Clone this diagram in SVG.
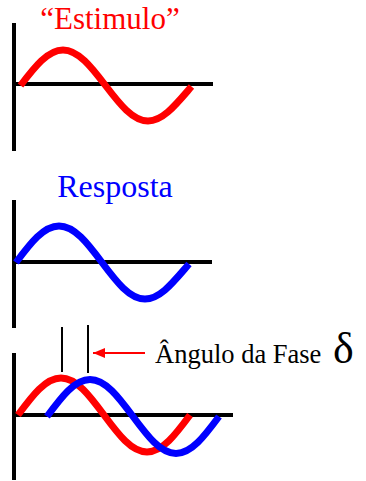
<svg xmlns="http://www.w3.org/2000/svg" width="366" height="481" viewBox="0 0 366 481">
<style>
.axis{stroke:#000;stroke-width:4;fill:none}
.tick{stroke:#000;stroke-width:2;fill:none}
.red{stroke:#ff0000;stroke-width:7;fill:none}
.blue{stroke:#0000ff;stroke-width:7;fill:none}
.t{font-family:"Liberation Serif","Times New Roman",serif}
</style>
<defs>
<marker id="ah" markerWidth="12" markerHeight="10" refX="12" refY="5" orient="auto" markerUnits="userSpaceOnUse">
<path d="M0,0 L12,5 L0,10 Z" fill="#ff0000"/>
</marker>
</defs>
<rect width="366" height="481" fill="#fff"/>
<g id="estimulo">
<text class="t" x="110" y="29" font-size="31" fill="#ff0000" text-anchor="middle">“Estimulo”</text>
<path class="axis" d="M14,23 V151 M14,84 H213"/>
<path class="red" d="M20.5,85.5 C34.7,66.9 47.8,50 63,50 C78.2,50 91.3,66.9 105.5,85.5 C119.7,104.1 132.8,121 148,121 C163.2,121 176.3,104.1 191.5,86.5"/>
</g>
<g id="resposta">
<text class="t" x="115" y="197" font-size="32" fill="#0000ff" text-anchor="middle">Resposta</text>
<path class="axis" d="M14,200 V328 M14,262 H212"/>
<path class="blue" d="M16,262.5 C30.4,243.3 43.5,226 59,226 C74.5,226 87.6,243.3 102,262.5 C116.4,281.7 129.5,299 145,299 C160.5,299 173.6,281.7 189,264"/>
</g>
<g id="fase">
<path class="axis" d="M14,353 V480 M14,415 H233"/>
<path class="red" d="M18,415 C32.4,395.6 45.5,378 61,378 C76.5,378 89.6,395.6 104,415 C118.4,434.4 131.5,452 147,452 C162.5,452 175.6,434.4 190,415"/>
<path class="blue" d="M47,416.5 C61.4,397.1 74.5,379.5 90,379.5 C105.5,379.5 118.6,397.1 133,416.5 C147.4,435.9 160.5,453.5 176,453.5 C191.5,453.5 204.6,435.9 219,416.5"/>
<path class="tick" d="M62,327 V372 M88,325 V373"/>
<text class="t" x="155" y="363" font-size="26.5" fill="#000">Ângulo da Fase</text>
<text class="t" x="333" y="363" font-size="44" fill="#000">δ</text>
</g>
<g id="connectors">
<line x1="145" y1="353" x2="93" y2="353" stroke="#ff0000" stroke-width="2" marker-end="url(#ah)"/>
</g>
</svg>
